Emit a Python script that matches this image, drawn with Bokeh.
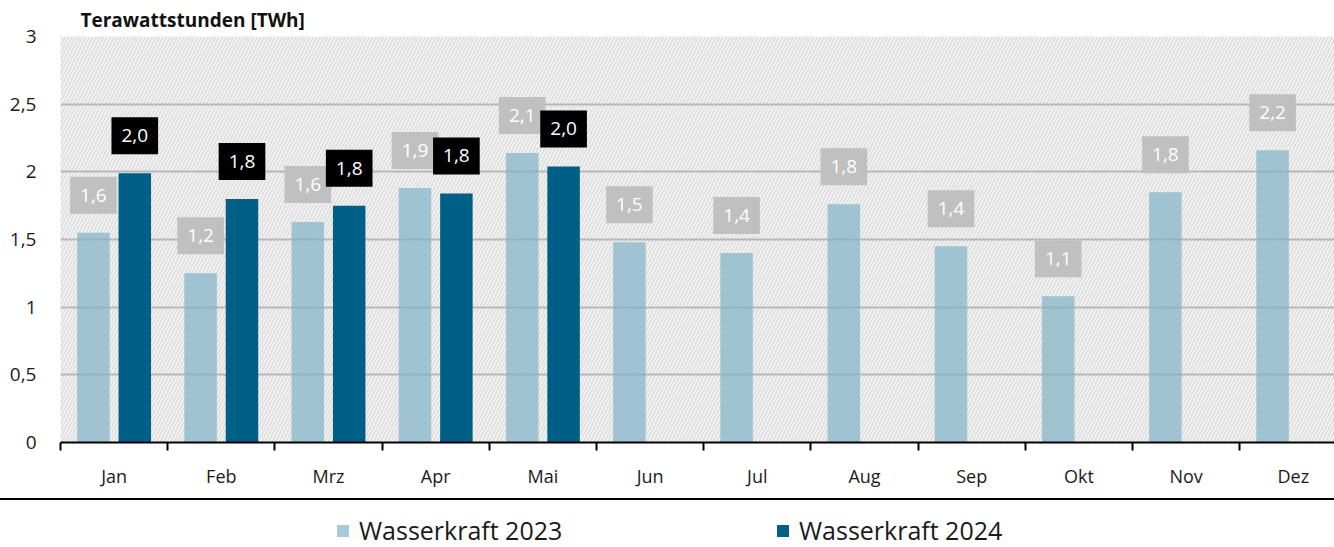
from bokeh.plotting import figure
from bokeh.models import (Range1d, FixedTicker, BoxAnnotation, Legend, LegendItem, Div)
from bokeh.layouts import column
from bokeh.embed import file_html
from bokeh.resources import INLINE
from bokeh.core.properties import value

# ---- data ----
months = ["Jan", "Feb", "Mrz", "Apr", "Mai", "Jun", "Jul", "Aug", "Sep", "Okt", "Nov", "Dez"]
v2023 = [1.55, 1.25, 1.63, 1.88, 2.14, 1.48, 1.40, 1.76, 1.45, 1.08, 1.85, 2.16]
lab2023 = ["1,6", "1,2", "1,6", "1,9", "2,1", "1,5", "1,4", "1,8", "1,4", "1,1", "1,8", "2,2"]
v2024 = [1.99, 1.80, 1.75, 1.84, 2.04]
lab2024 = ["2,0", "1,8", "1,8", "1,8", "2,0"]
y_ticks = [0, 0.5, 1, 1.5, 2, 2.5, 3]
title_text = "Terawattstunden [TWh]"
series_names = ["Wasserkraft 2023", "Wasserkraft 2024"]

FONT = "Open Sans"
C23 = "#82b4c8"
C23_SWATCH = "#a8c9d6"
C24 = "#005f87"

n = len(months)
centers = [i + 0.5 for i in range(n)]
dodge = 0.193
x23 = [c - dodge for c in centers]
x24 = [centers[i] + dodge for i in range(len(v2024))]

W = 1334
p = figure(width=W, height=498, x_range=Range1d(0, 1274 / 107.2), y_range=Range1d(0, 3),
           output_backend="svg", toolbar_location=None,
           min_border_left=60, min_border_right=0, min_border_top=36, min_border_bottom=56,
           background_fill_color="#f2f2f2", border_fill_color="white", outline_line_color=None,
           title=title_text, margin=(0, 0, 0, 0))

p.title.text_font = FONT
p.title.text_font_size = "19px"
p.title.text_font_style = "bold"
p.title.text_color = "#111111"
p.title.align = "left"
p.title.offset = 20
p.title.standoff = 7

# hatched background
hatch = BoxAnnotation(level="image", fill_color="#f2f2f2", fill_alpha=1.0, line_color=None,
                      hatch_pattern="/", hatch_color="#d0d0d0", hatch_scale=7, hatch_weight=1)
p.add_layout(hatch)

# axes
xa = p.xaxis[0]
xa.ticker = FixedTicker(ticks=centers, minor_ticks=list(range(n + 1)))
xa.major_label_overrides = {c: m for c, m in zip(centers, months)}
xa.major_tick_line_color = None
xa.major_tick_out = 0
xa.major_tick_in = 0
xa.minor_tick_out = 8
xa.minor_tick_in = 0
xa.minor_tick_line_color = "black"
xa.minor_tick_line_width = 2
xa.axis_line_color = "black"
xa.axis_line_width = 2
xa.major_label_standoff = 13
xa.major_label_text_font = FONT
xa.major_label_text_font_size = "18px"
xa.major_label_text_color = "#1a1a1a"

ya = p.yaxis[0]
ya.ticker = FixedTicker(ticks=y_ticks)
ya.major_label_overrides = {t: f"{t:g}".replace(".", ",") for t in y_ticks}
ya.axis_line_color = None
ya.major_tick_line_color = None
ya.minor_tick_line_color = None
ya.major_tick_out = 0
ya.major_label_standoff = 24
ya.major_label_text_font = FONT
ya.major_label_text_font_size = "19px"
ya.major_label_text_color = "#1a1a1a"

p.xgrid.visible = False
p.ygrid.grid_line_color = "#b8b8b8"
p.ygrid.grid_line_width = 2

# bars
p.vbar(x=x23, top=v2023, width=0.303, fill_color=C23, fill_alpha=0.72, line_color=None)
p.vbar(x=x24, top=v2024, width=0.303, fill_color=C24, line_color=None)

# labels
p.text(x=x23, y=v2023, text=lab2023, text_align="center", text_baseline="bottom",
       y_offset=-19, text_color="white", text_font=value(FONT), text_font_size="19px",
       background_fill_color="#c0c0c0", padding=(10, 12))
p.text(x=x24, y=v2024, text=lab2024, text_align="center", text_baseline="bottom",
       y_offset=-19, text_color="white", text_font=value(FONT), text_font_size="19px",
       background_fill_color="black", padding=(10, 12))

# separator line
sep = Div(text="", width=W, height=2, margin=(0, 0, 0, 0),
          styles={"background-color": "black", "margin": "0", "padding": "0"})

# legend strip
q = figure(width=W, height=47, x_range=Range1d(0, 1), y_range=Range1d(0, 1),
           output_backend="svg", toolbar_location=None, margin=(0, 0, 0, 0),
           min_border_left=60, min_border_right=0, min_border_top=0, min_border_bottom=0,
           outline_line_color=None, background_fill_color="white")
q.axis.visible = False
q.grid.visible = False
r1 = q.vbar(x=[100], top=[0.5], width=0.1, fill_color=C23_SWATCH, line_color=None)
r2 = q.vbar(x=[100], top=[0.5], width=0.1, fill_color=C24, line_color=None)
for r, name, lx in [(r1, series_names[0], 275), (r2, series_names[1], 715)]:
    lg = Legend(items=[LegendItem(label=name, renderers=[r])], location=(lx, 0),
                padding=0, margin=0, border_line_color=None, background_fill_alpha=0,
                glyph_width=15, glyph_height=15, label_standoff=9,
                label_text_font=FONT, label_text_font_size="25px", label_text_color="#1a1a1a")
    q.add_layout(lg)

layout = column(p, sep, q, spacing=0)
open("out.html", "w").write(file_html(layout, INLINE))
